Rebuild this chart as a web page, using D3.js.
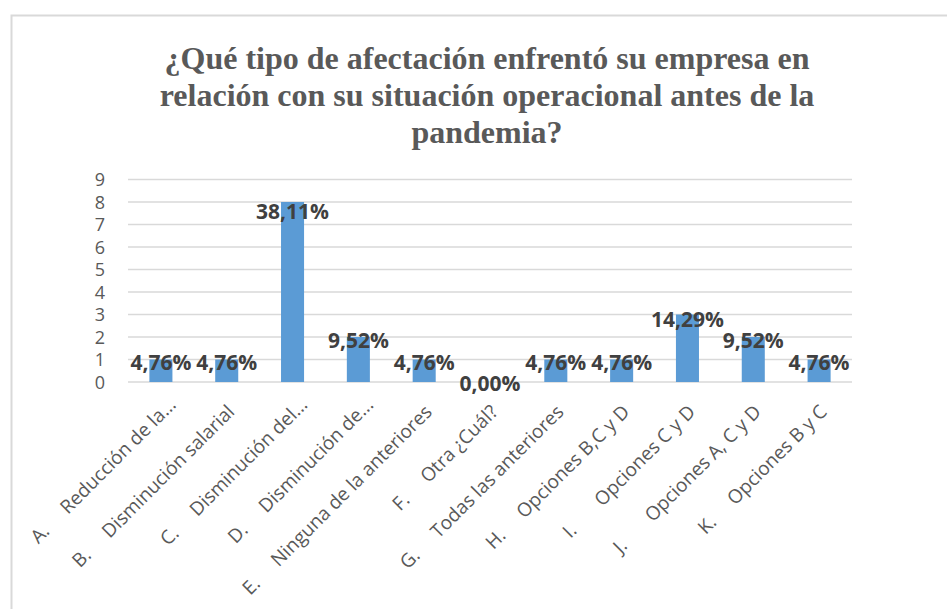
<!DOCTYPE html>
<html>
<head>
<meta charset="utf-8">
<script src="https://cdn.jsdelivr.net/npm/d3@7"></script>
<style>
  body { margin: 0; background: #fff; }
  text { white-space: pre; }
</style>
</head>
<body>
<svg id="frame"></svg>
<script>
// chart data
const categories = [
  "A.     Reducción de la...",
  "B.     Disminución salarial",
  "C.     Disminución del...",
  "D.     Disminución de...",
  "E.     Ninguna de la anteriores",
  "F.     Otra ¿Cuál?",
  "G.     Todas las anteriores",
  "H.     Opciones B,C y D",
  "I.       Opciones C y D",
  "J.       Opciones A, C y D",
  "K.     Opciones B y C"
];
const counts = [1, 1, 8, 2, 1, 0, 1, 1, 3, 2, 1];
const percentLabels = ["4,76%", "4,76%", "38,11%", "9,52%", "4,76%", "0,00%", "4,76%", "4,76%", "14,29%", "9,52%", "4,76%"];
const yTicks = [0, 1, 2, 3, 4, 5, 6, 7, 8, 9];
const titleLines = [
  "¿Qué tipo de afectación enfrentó su empresa en",
  "relación con su situación operacional antes de la",
  "pandemia?"
];

const config = { width: 947, height: 609 };
const plot = { left: 128, right: 852, top: 179.5, bottom: 382 };

const svg = d3.select("#frame")
  .attr("width", config.width)
  .attr("height", config.height);

// chart border (only top and left visible in the crop)
svg.append("rect")
  .attr("x", 11.5).attr("y", 15.5)
  .attr("width", 1000).attr("height", 700)
  .attr("fill", "none")
  .attr("stroke", "#d9d9d9")
  .attr("stroke-width", 2);

// title
svg.append("g").selectAll("text")
  .data(titleLines)
  .join("text")
  .attr("x", 487)
  .attr("y", (d, i) => 69 + i * 37)
  .attr("text-anchor", "middle")
  .attr("font-family", "'Liberation Serif', 'Times New Roman', serif")
  .attr("font-weight", "bold")
  .attr("font-size", 32)
  .attr("fill", "#595959")
  .text(d => d);

let x = d3.scaleBand()
  .domain(categories)
  .range([plot.left, plot.right])
  .paddingInner(0.65)
  .paddingOuter(0.325);

let y = d3.scaleLinear()
  .domain([0, 9])
  .range([plot.bottom, plot.top]);

// gridlines
svg.append("g")
  .selectAll("line")
  .data(yTicks)
  .join("line")
  .attr("x1", plot.left).attr("x2", plot.right)
  .attr("y1", d => y(d)).attr("y2", d => y(d))
  .attr("stroke", "#d9d9d9")
  .attr("stroke-width", 1.3);

// y axis labels
let yAxis = d3.axisLeft(y).tickValues(yTicks).tickSize(0).tickPadding(0);
let yg = svg.append("g")
  .attr("transform", `translate(${plot.left - 23},0)`)
  .call(yAxis);
yg.select(".domain").remove();
yg.selectAll("text")
  .attr("font-family", "'Open Sans', sans-serif")
  .attr("font-size", 18)
  .attr("fill", "#595959")
  .attr("dy", "0.36em");

// bars
svg.append("g")
  .selectAll("rect")
  .data(counts)
  .join("rect")
  .attr("x", (d, i) => x(categories[i]))
  .attr("width", x.bandwidth())
  .attr("y", d => y(d))
  .attr("height", d => y(0) - y(d))
  .attr("fill", "#5b9bd5");

// data labels
svg.append("g")
  .selectAll("text")
  .data(counts)
  .join("text")
  .attr("x", (d, i) => x(categories[i]) + x.bandwidth() / 2)
  .attr("y", d => y(d) + 1.5 + d * 1.05)
  .attr("dy", "0.36em")
  .attr("text-anchor", "middle")
  .attr("font-family", "'Open Sans', sans-serif")
  .attr("font-weight", "bold")
  .attr("font-size", 21)
  .attr("fill", "#404040")
  .text((d, i) => percentLabels[i]);

// x axis labels, rotated; truncated ones sit a bit further along
svg.append("g")
  .selectAll("text")
  .data(categories)
  .join("text")
  .attr("transform", d => `translate(${x(d) + x.bandwidth() / 2 + 9},${plot.bottom + 31}) rotate(-45)`)
  .attr("dx", d => d.endsWith("...") ? 10 : 0)
  .attr("text-anchor", "end")
  .attr("font-family", "'Open Sans', sans-serif")
  .attr("font-size", 19)
  .attr("fill", "#595959")
  .text(d => d);
</script>
</body>
</html>
